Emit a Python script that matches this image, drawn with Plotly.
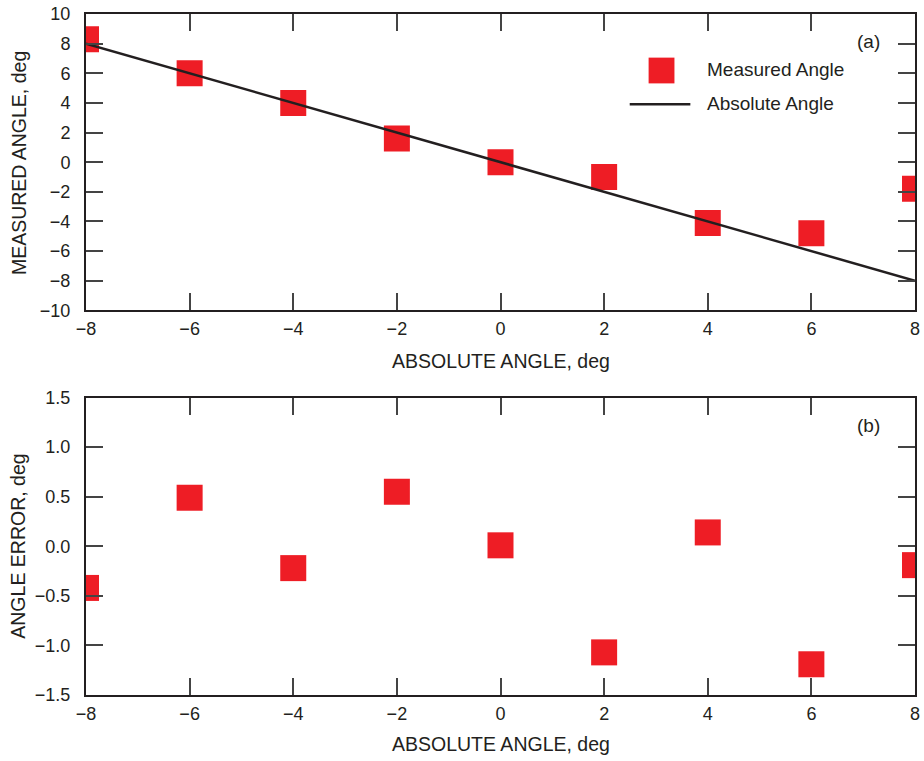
import plotly.graph_objects as go
from plotly.subplots import make_subplots

# Data
absolute_angle = [-8, -6, -4, -2, 0, 2, 4, 6, 8]
measured_angle = [8.3, 6.0, 4.0, 1.6, 0.0, -1.0, -4.1, -4.8, -1.8]
angle_error = [-0.42, 0.49, -0.22, 0.55, 0.01, -1.07, 0.14, -1.19, -0.19]
line_x = [-8, 8]
line_y = [8, -8]

RED = "#ee1d25"
DARK = "#231f20"
FONT = "Liberation Sans, Arial, sans-serif"

W, H = 924, 761
SHIFT = 2
ML, MR, MT, MB = 86, 4, 10 - SHIFT, 64 + SHIFT
PW = W - ML - MR
PH = H - MT - MB


def px(xp):
    return (xp - ML) / PW


def py(yp):
    return (H - MB - (yp - SHIFT)) / PH


fig = make_subplots(rows=2, cols=1)

fig.add_trace(go.Scatter(x=absolute_angle, y=measured_angle, mode="markers",
                         marker=dict(symbol="square", size=26, color=RED, line=dict(width=0)),
                         name="Measured Angle", showlegend=False), row=1, col=1)
fig.add_trace(go.Scatter(x=line_x, y=line_y, mode="lines",
                         line=dict(color=DARK, width=2.5),
                         name="Absolute Angle", showlegend=False), row=1, col=1)
fig.add_trace(go.Scatter(x=absolute_angle, y=angle_error, mode="markers",
                         marker=dict(symbol="square", size=26, color=RED, line=dict(width=0)),
                         name="Angle Error", showlegend=False), row=2, col=1)

axis_common = dict(showline=True, linecolor=DARK, linewidth=2, mirror="ticks",
                   ticks="inside", ticklen=17, tickwidth=1.5, tickcolor="#444",
                   showgrid=False, zeroline=False,
                   tickfont=dict(family=FONT, size=18, color=DARK))

fig.update_layout(
    width=W, height=H,
    margin=dict(l=ML, r=MR, t=MT, b=MB),
    plot_bgcolor="white", paper_bgcolor="white",
    font=dict(family=FONT, color=DARK),
    xaxis=dict(domain=[0, 1], range=[-8, 8], dtick=2, tick0=0, anchor="y",
               ticklabelstandoff=1, **axis_common),
    yaxis=dict(domain=[py(309), 1], range=[-10, 10], dtick=2, tick0=0, anchor="x",
               ticklabelstandoff=10, **axis_common),
    xaxis2=dict(domain=[0, 1], range=[-8, 8], dtick=2, tick0=0, anchor="y2",
                ticklabelstandoff=1, **axis_common),
    yaxis2=dict(domain=[0, py(397)], range=[-1.5, 1.5], dtick=0.5, tick0=0,
                tickformat=".1f", anchor="x2", ticklabelstandoff=10, **axis_common),
)

title_font = dict(family=FONT, size=19.5, color=DARK)
label_font = dict(family=FONT, size=19, color=DARK)
common = dict(xref="paper", yref="paper", showarrow=False, xanchor="center", yanchor="middle")
annotations = [
    dict(text="ABSOLUTE ANGLE, deg", x=0.5, y=py(360), font=title_font, **common),
    dict(text="ABSOLUTE ANGLE, deg", x=0.5, y=py(746), font=title_font, **common),
    dict(text="MEASURED ANGLE, deg", x=px(18), y=py(160), font=title_font, textangle=-90, **common),
    dict(text="ANGLE ERROR, deg", x=px(18), y=py(547), font=title_font, textangle=-90, **common),
    dict(text="(a)", x=px(873), y=py(38), font=label_font, **common),
    dict(text="(b)", x=px(873), y=py(425), font=label_font, **common),
    dict(text="Measured Angle", x=px(709), y=py(66), xref="paper", yref="paper",
         showarrow=False, xanchor="left", yanchor="middle", font=label_font),
    dict(text="Absolute Angle", x=px(709), y=py(100), xref="paper", yref="paper",
         showarrow=False, xanchor="left", yanchor="middle", font=label_font),
]
fig.update_layout(annotations=annotations)

shapes = [
    dict(type="rect", xref="paper", yref="paper", x0=px(652), x1=px(678),
         y0=py(80), y1=py(54), fillcolor=RED, line=dict(width=0)),
    dict(type="line", xref="paper", yref="paper", x0=px(633), x1=px(694),
         y0=py(101), y1=py(101), line=dict(color=DARK, width=2.5)),
]
fig.update_layout(shapes=shapes)

fig.write_html("out.html", config={"displayModeBar": False},
               post_script="document.body.style.margin='0';document.body.style.overflow='hidden';")
